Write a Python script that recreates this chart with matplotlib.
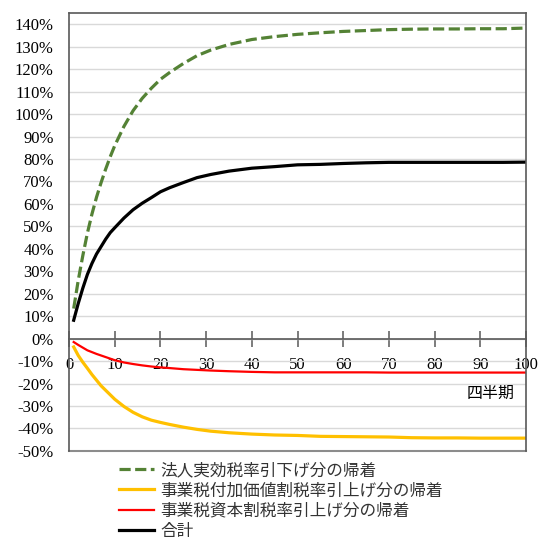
import matplotlib
matplotlib.use('Agg')
import matplotlib.pyplot as plt
from matplotlib.ticker import FixedLocator, FuncFormatter

# 四半期ごとの帰着（読み取り値, %）
quarters = [1, 2, 3, 4, 5, 6, 7, 8, 9, 10, 12, 14, 16, 18, 20, 22, 25, 28, 31, 35,
            40, 45, 50, 55, 60, 65, 70, 75, 80, 85, 90, 95, 100]
corp_cut = [13.4, 26, 37, 47, 55.5, 63, 69.5, 75.5, 81, 86, 94.5, 101.5, 107, 111.5,
            115.5, 118.5, 122.5, 126, 128.5, 131, 133.2, 134.5, 135.5, 136.2, 136.8,
            137.2, 137.6, 137.8, 137.9, 137.9, 138.0, 138.0, 138.3]
value_added = [-3.7, -7.5, -10.5, -13.2, -16, -18.5, -21, -23, -25, -27, -30.2, -32.8,
               -34.8, -36.3, -37.3, -38.2, -39.4, -40.4, -41.2, -41.9, -42.5, -42.9,
               -43.1, -43.5, -43.6, -43.7, -43.8, -44.1, -44.2, -44.2, -44.3, -44.3, -44.3]
capital = [-1.5, -2.8, -4.0, -5.2, -6.0, -6.8, -7.5, -8.2, -8.9, -9.6, -10.6, -11.3,
           -11.9, -12.4, -12.8, -13.1, -13.6, -13.9, -14.2, -14.5, -14.8, -15.0, -15.0,
           -15.0, -15.0, -15.0, -15.1, -15.1, -15.1, -15.1, -15.1, -15.1, -15.1]
total = [8.2, 15.7, 22.5, 28.6, 33.5, 37.7, 41.0, 44.3, 47.2, 49.4, 53.7, 57.4, 60.3,
         62.8, 65.4, 67.2, 69.5, 71.7, 73.1, 74.6, 75.9, 76.6, 77.4, 77.6, 78.0, 78.3,
         78.5, 78.5, 78.5, 78.5, 78.5, 78.5, 78.6]

labels = ['法人実効税率引下げ分の帰着', '事業税付加価値割税率引上げ分の帰着',
          '事業税資本割税率引上げ分の帰着', '合計']
x_ticks = [0, 10, 20, 30, 40, 50, 60, 70, 80, 90, 100]
y_ticks = list(range(-50, 141, 10))

# 目盛りは明朝風（セリフ体）、日本語はゴシック
plt.rcParams['font.family'] = 'serif'
plt.rcParams['font.serif'] = ['Liberation Serif', 'DejaVu Serif']
jp = ['Noto Sans CJK JP', 'DejaVu Sans']

fig = plt.figure(figsize=(5.4, 5.42), dpi=100)
ax = fig.add_axes([0.128, 0.168, 0.846, 0.808])

ax.plot(quarters, corp_cut, color='#548235', lw=2.3, dashes=(3.5, 1.4), label=labels[0])
ax.plot(quarters, value_added, color='#FFC000', lw=2.3, label=labels[1])
ax.plot(quarters, capital, color='#FF0000', lw=1.6, label=labels[2])
ax.plot(quarters, total, color='#000000', lw=2.3, label=labels[3])

ax.set_xlim(0, 100)
ax.set_ylim(-50, 145)
ax.yaxis.set_major_locator(FixedLocator(y_ticks))
ax.yaxis.set_major_formatter(FuncFormatter(lambda v, p: f'{v:.0f}%'))
ax.xaxis.set_major_locator(FixedLocator(x_ticks))
ax.grid(axis='y', color='#D9D9D9', lw=1)
ax.set_axisbelow(True)

for side in ['left', 'right', 'top']:
    ax.spines[side].set_color('#595959')
    ax.spines[side].set_linewidth(1.2)
ax.spines['bottom'].set_position(('data', 0))
ax.spines['bottom'].set_color('#595959')
ax.spines['bottom'].set_linewidth(1.2)
# 下端の枠線
ax.axhline(-50, color='#8C8C8C', lw=1.5, clip_on=False)

ax.tick_params(axis='y', length=0, pad=11, labelsize=12)
ax.tick_params(axis='x', direction='inout', length=11, width=1.1, color='#595959',
               pad=8, labelsize=12)

ax.text(92.3, -24.5, '四半期', ha='center', va='center', fontsize=11.5, family=jp)

fig.legend(loc='upper left', bbox_to_anchor=(0.205, 0.163), frameon=False,
           prop={'family': jp, 'size': 12}, handlelength=2.1, handletextpad=0.36,
           labelspacing=0.2, borderpad=0, labelcolor='#333333')

fig.savefig('out.png', dpi=100)
